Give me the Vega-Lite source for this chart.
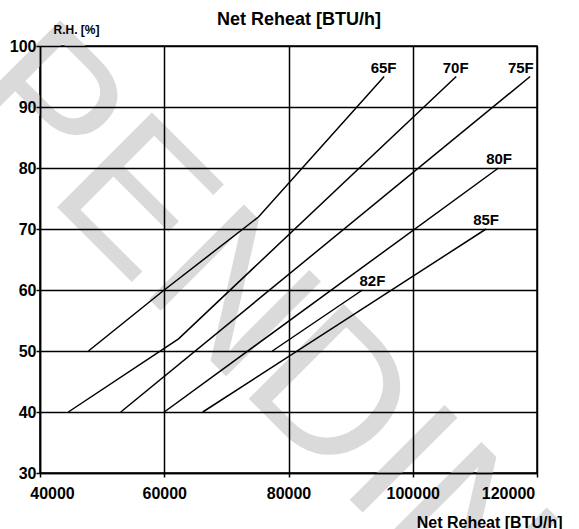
{
  "$schema": "https://vega.github.io/schema/vega-lite/v6.json",
  "width": 497,
  "height": 427,
  "autosize": "none",
  "padding": {"left": 40, "top": 46, "right": 42, "bottom": 56},
  "background": "white",
  "config": {"view": {"stroke": "black", "strokeWidth": 1.5}, "font": "Liberation Sans"},
  "datasets": {
    "curves": [
      {"s": "65F", "x": 47800, "y": 50},
      {"s": "65F", "x": 60000, "y": 60},
      {"s": "65F", "x": 75200, "y": 72},
      {"s": "65F", "x": 95400, "y": 95},
      {"s": "70F", "x": 44560, "y": 40},
      {"s": "70F", "x": 62300, "y": 52},
      {"s": "70F", "x": 107000, "y": 95},
      {"s": "75F", "x": 53000, "y": 40},
      {"s": "75F", "x": 118900, "y": 95},
      {"s": "80F", "x": 60000, "y": 40},
      {"s": "80F", "x": 113800, "y": 80},
      {"s": "82F", "x": 77400, "y": 50},
      {"s": "82F", "x": 91900, "y": 60},
      {"s": "85F", "x": 66200, "y": 40},
      {"s": "85F", "x": 111800, "y": 70}
    ],
    "labels": [
      {"s": "65F", "x": 95300, "y": 95},
      {"s": "70F", "x": 106900, "y": 95},
      {"s": "75F", "x": 117400, "y": 95},
      {"s": "80F", "x": 113900, "y": 80},
      {"s": "82F", "x": 93500, "y": 60},
      {"s": "85F", "x": 111800, "y": 70}
    ],
    "watermark": [
      {"t": "PENDING", "x": 76700, "y": 39.0}
    ],
    "heading": [
      {"t": "Net Reheat [BTU/h]", "x": 81690, "y": 103.44}
    ]
  },
  "encoding": {
    "x": {
      "field": "x", "type": "quantitative",
      "scale": {"domain": [40000, 120000], "nice": false, "zero": false},
      "axis": {
        "title": "Net Reheat [BTU/h]",
        "values": [40000, 60000, 80000, 100000, 120000],
        "format": "d",
        "grid": true, "gridColor": "black", "gridWidth": 1.5, "gridOpacity": 1,
        "domainColor": "black", "domainWidth": 1.5,
        "tickColor": "black", "tickSize": 4, "tickWidth": 1.5,
        "labelFont": "Liberation Sans", "labelFontSize": 16, "labelFontWeight": "bold", "labelColor": "black",
        "labelPadding": 8, "labelFlush": false,
        "labelOffset": {"condition": [{"test": "datum.value == 40000", "value": 12}, {"test": "datum.value == 120000", "value": -29}], "value": 0},
        "titleFont": "Liberation Sans", "titleFontSize": 16, "titleFontWeight": "bold", "titleColor": "black",
        "titleAlign": "right", "titleX": 522, "titleY": 54, "titleBaseline": "alphabetic",
        "zindex": 1
      }
    },
    "y": {
      "field": "y", "type": "quantitative",
      "scale": {"domain": [30, 100], "nice": false, "zero": false},
      "axis": {
        "title": "R.H. [%]",
        "values": [30, 40, 50, 60, 70, 80, 90, 100],
        "grid": true, "gridColor": "black", "gridWidth": 1.5, "gridOpacity": 1,
        "domainColor": "black", "domainWidth": 1.5,
        "tickColor": "black", "tickSize": 4, "tickWidth": 1.5,
        "labelFont": "Liberation Sans", "labelFontSize": 16, "labelFontWeight": "bold", "labelColor": "black",
        "labelPadding": 0,
        "titleFont": "Liberation Sans", "titleFontSize": 12, "titleFontWeight": "bold", "titleColor": "black",
        "titleAngle": 0, "titleAlign": "left", "titleX": 13, "titleY": -13, "titleBaseline": "alphabetic",
        "zindex": 1
      }
    }
  },
  "layer": [
    {
      "data": {"name": "watermark"},
      "mark": {"type": "text", "angle": 45, "fontSize": 195, "font": "Liberation Sans", "color": "#dadada", "align": "center", "baseline": "alphabetic"},
      "encoding": {"text": {"field": "t"}}
    },
    {
      "data": {"name": "curves"},
      "mark": {"type": "line", "stroke": "black", "strokeWidth": 1.5},
      "encoding": {"detail": {"field": "s"}}
    },
    {
      "data": {"name": "labels"},
      "mark": {"type": "text", "font": "Liberation Sans", "fontSize": 15, "fontWeight": "bold", "color": "black", "align": "center", "baseline": "alphabetic", "dy": -4},
      "encoding": {"text": {"field": "s"}}
    },
    {
      "data": {"name": "heading"},
      "mark": {"type": "text", "font": "Liberation Sans", "fontSize": 18, "fontWeight": "bold", "color": "black", "align": "center", "baseline": "alphabetic"},
      "encoding": {"text": {"field": "t"}}
    }
  ]
}
